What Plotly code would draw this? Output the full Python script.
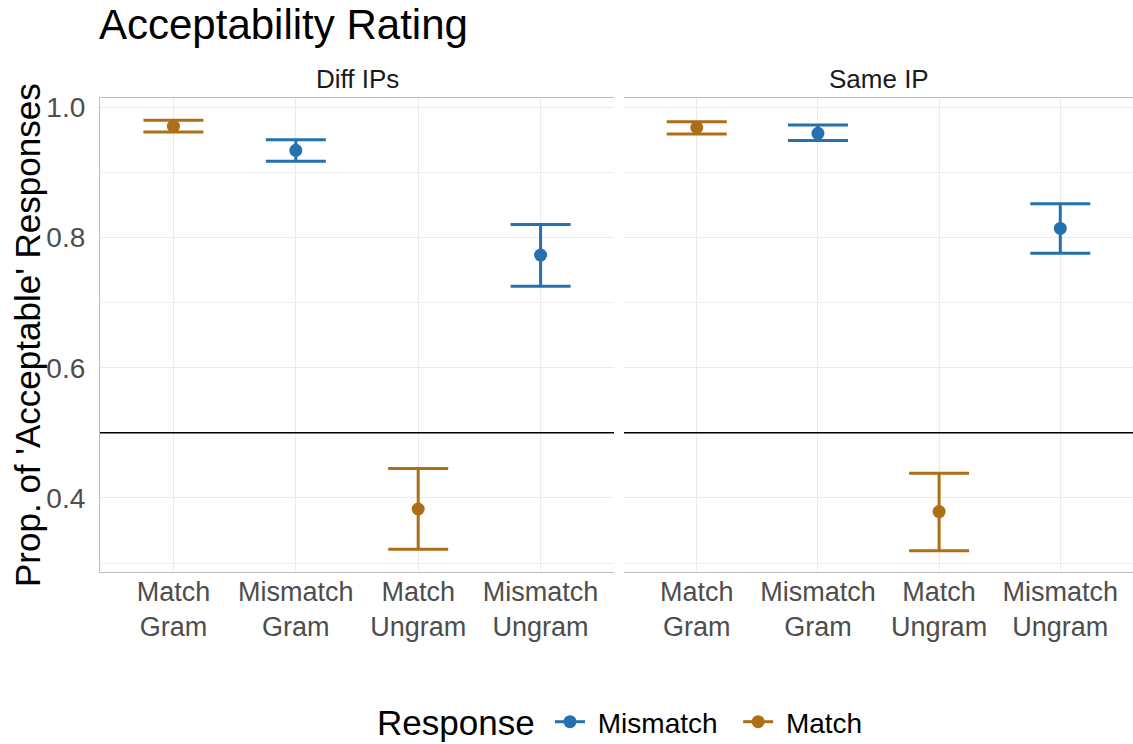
import plotly.graph_objects as go

categories = ["Match Gram", "Mismatch Gram", "Match Ungram", "Mismatch Ungram"]
tick_labels = ["Match<br>Gram", "Mismatch<br>Gram", "Match<br>Ungram", "Mismatch<br>Ungram"]
panels = ["Diff IPs", "Same IP"]

# Diff IPs
diff_match_x = ["Match Gram", "Match Ungram"]
diff_match_y = [0.971, 0.383]
diff_match_lo = [0.962, 0.321]
diff_match_hi = [0.980, 0.445]
diff_mis_x = ["Mismatch Gram", "Mismatch Ungram"]
diff_mis_y = [0.934, 0.773]
diff_mis_lo = [0.917, 0.725]
diff_mis_hi = [0.950, 0.820]

# Same IP
same_match_x = ["Match Gram", "Match Ungram"]
same_match_y = [0.969, 0.379]
same_match_lo = [0.959, 0.319]
same_match_hi = [0.978, 0.438]
same_mis_x = ["Mismatch Gram", "Mismatch Ungram"]
same_mis_y = [0.960, 0.814]
same_mis_lo = [0.949, 0.776]
same_mis_hi = [0.973, 0.852]

y_ticks = [0.4, 0.6, 0.8, 1.0]
y_tick_text = ["0.4", "0.6", "0.8", "1.0"]
ref_line = 0.5

BLUE = "#2571AF"
BROWN = "#AE6E16"
FONT = "Liberation Sans, Arial, sans-serif"

fig = go.Figure()


def add_series(x, y, lo, hi, color, xa, ya):
    fig.add_trace(go.Scatter(
        x=x, y=y, mode="markers", xaxis=xa, yaxis=ya, showlegend=False,
        marker=dict(color=color, size=13),
        error_y=dict(type="data", symmetric=False,
                     array=[h - v for h, v in zip(hi, y)],
                     arrayminus=[v - l for v, l in zip(y, lo)],
                     color=color, thickness=3, width=30),
    ))


add_series(diff_mis_x, diff_mis_y, diff_mis_lo, diff_mis_hi, BLUE, "x", "y")
add_series(diff_match_x, diff_match_y, diff_match_lo, diff_match_hi, BROWN, "x", "y")
add_series(same_mis_x, same_mis_y, same_mis_lo, same_mis_hi, BLUE, "x2", "y2")
add_series(same_match_x, same_match_y, same_match_lo, same_match_hi, BROWN, "x2", "y2")

# legend proxies
for name, color in [("Mismatch", BLUE), ("Match", BROWN)]:
    fig.add_trace(go.Scatter(x=[None], y=[None], mode="lines+markers", name=" " + name + "  ",
                             line=dict(color=color, width=3),
                             marker=dict(color=color, size=13),
                             xaxis="x", yaxis="y"))

yr = [0.2862, 1.0143]
xaxis_common = dict(
    type="category", categoryorder="array", categoryarray=categories,
    range=[-0.6, 3.6], tickvals=categories, ticktext=tick_labels,
    showgrid=True, gridcolor="#EBEBEB", gridwidth=1.3,
    showline=True, mirror=True, linecolor="#BEBEBE", linewidth=1.2,
    ticks="", tickfont=dict(family=FONT, size=27, color="#4D4D4D"),
    zeroline=False, fixedrange=True, ticklabelstandoff=-5, automargin=False,
)
yaxis_common = dict(
    range=yr, tickvals=y_ticks, ticktext=y_tick_text,
    showgrid=True, gridcolor="#EBEBEB", gridwidth=1.3,
    minor=dict(dtick=0.1, tick0=0, showgrid=True, gridcolor="#EFEFEF", gridwidth=1),
    ticks="", zeroline=False, automargin=False,
    tickfont=dict(family=FONT, size=28, color="#4D4D4D"),
)

fig.update_layout(
    template="none",
    width=1133, height=744,
    margin=dict(l=100, r=0, t=98, b=172, pad=0, autoexpand=False),
    plot_bgcolor="white", paper_bgcolor="white",
    font=dict(family=FONT, color="black"),
    xaxis=dict(domain=[0, 0.4976], anchor="y", **xaxis_common),
    xaxis2=dict(domain=[0.5073, 1.0], anchor="y2", **xaxis_common),
    yaxis=dict(anchor="x", showline=True, linecolor="#BEBEBE", linewidth=1.2,
               ticklabelstandoff=8, **yaxis_common),
    yaxis2=dict(anchor="x2", showline=False, showticklabels=False, matches="y", **yaxis_common),
    title=dict(text="Acceptability Rating", x=99 / 1133, xanchor="left",
               y=1 - 24 / 744, yanchor="middle", yref="container", xref="container",
               font=dict(family=FONT, size=42, color="black")),
    legend=dict(orientation="h", x=(550 - 100) / 1033, xanchor="left",
                y=-150 / 474, yanchor="middle",
                font=dict(family=FONT, size=28, color="black"),
                itemwidth=30, bgcolor="rgba(0,0,0,0)"),
    shapes=[
        dict(type="line", xref="x domain", yref="y", x0=0, x1=1, y0=ref_line, y1=ref_line,
             line=dict(color="black", width=1.6)),
        dict(type="line", xref="x2 domain", yref="y2", x0=0, x1=1, y0=ref_line, y1=ref_line,
             line=dict(color="black", width=1.6)),
    ],
    annotations=[
        dict(text=panels[0], xref="x domain", yref="paper", x=0.5, y=1, yshift=19,
             showarrow=False, xanchor="center", yanchor="middle",
             font=dict(family=FONT, size=26, color="#1A1A1A")),
        dict(text=panels[1], xref="x2 domain", yref="paper", x=0.5, y=1, yshift=19,
             showarrow=False, xanchor="center", yanchor="middle",
             font=dict(family=FONT, size=26, color="#1A1A1A")),
        dict(text="Prop. of 'Acceptable' Responses", xref="paper", yref="paper",
             x=-73 / 1033, y=0.5, textangle=-90, showarrow=False,
             xanchor="center", yanchor="middle",
             font=dict(family=FONT, size=35, color="black")),
        dict(text="Response", xref="paper", yref="paper",
             x=(375 - 100) / 1033, y=-150 / 474, showarrow=False,
             xanchor="left", yanchor="middle",
             font=dict(family=FONT, size=35, color="black")),
    ],
)

fig.write_html("out.html", config={"displayModeBar": False},
               post_script="document.body.style.margin='0';document.body.style.padding='0';")
